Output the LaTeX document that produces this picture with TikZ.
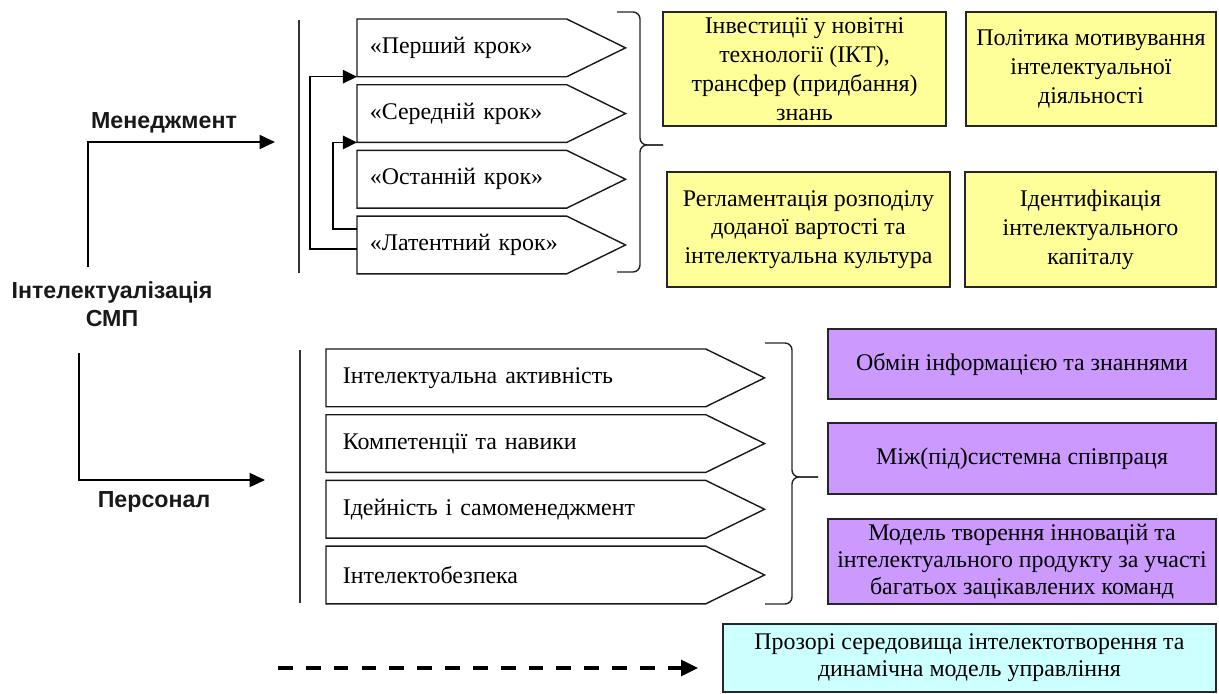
\documentclass[tikz,border=0pt]{standalone}
\usepackage{fontspec}
\setmainfont{Liberation Serif}
\setsansfont{Liberation Sans}
\usepackage{tikz}
\usetikzlibrary{arrows.meta,positioning}

\definecolor{yellowbox}{HTML}{FFFF99}
\definecolor{violetbox}{HTML}{CC99FF}
\definecolor{cyanbox}{HTML}{CCFFFF}

\begin{document}
\begin{tikzpicture}[x=0.025cm,y=-0.025cm,>={Triangle[length=10pt,width=9.5pt]},
                    node distance=0.2cm,font=\fontsize{17pt}{20.5pt}\selectfont,
                    line width=1.2pt]
  \tikzstyle{stepbase}=[rectangle,inner xsep=0pt,inner ysep=0pt,minimum height=1.4cm,
                        align=left,anchor=north west]
  \tikzstyle{krok}=[stepbase,text width=5.2cm,execute at begin node=\hspace*{0.3cm}]
  \tikzstyle{pkrok}=[stepbase,text width=9.45cm,execute at begin node=\hspace*{0.4cm}]
  \tikzstyle{outline}=[draw=black!90,line width=1pt,line join=miter]
  \tikzstyle{box}=[rectangle,draw=black!85,line width=1.2pt,align=center,inner sep=0pt]
  \tikzstyle{label}=[font=\fontsize{16.5pt}{20pt}\selectfont\sffamily\bfseries,
                     align=center,text=black!90]
  \tikzstyle{brace}=[draw=black!85,line width=1pt,rounded corners=5pt]

  \useasboundingbox (0,0) rectangle (1219,693);

  % left part
  \node[label] (intel) at (112,304) {Інтелектуалізація\\СМП};
  \node[label] (man)   at (164,123) {Менеджмент};
  \node[label] (pers)  at (154,502) {Персонал};
  \coordinate (m0) at (88,267);
  \coordinate (m1) at (275,142);
  \coordinate (p0) at (79,353);
  \coordinate (p1) at (265,480);
  \draw[->,>={Triangle[length=11pt,width=10pt]}] (m0) |- (m1);
  \draw[->,>={Triangle[length=11pt,width=10pt]}] (p0) |- (p1);

  % steps of management
  \draw[black!80] (299,20) -- (299,273);
  \node[krok] (k1) at (357,19)   {«Перший крок»};
  \node[krok] (k2) [below=of k1] {«Середній крок»};
  \node[krok] (k3) [below=of k2] {«Останній крок»};
  \node[krok] (k4) [below=of k3] {«Латентний крок»};

  % steps of personnel
  \draw[black!80] (300,350) -- (300,603);
  \node[pkrok] (q1) at (326,349)  {Інтелектуальна активність};
  \node[pkrok] (q2) [below=of q1] {Компетенції та навики};
  \node[pkrok] (q3) [below=of q2] {Ідейність і самоменеджмент};
  \node[pkrok] (q4) [below=of q3] {Інтелектобезпека};

  \foreach \n in {k1,k2,k3,k4,q1,q2,q3,q4}
    \draw[outline] (\n.north west) -- (\n.north east) -- ([xshift=1.47cm]\n.east)
                   -- (\n.south east) -- (\n.south west) -- cycle;

  % feedback loops
  \draw[->,line width=1.1pt] ([yshift=-0.1cm]k4.west) -- ++(-47,0) |- (k1.south west);
  \draw[->,line width=1.1pt] ([yshift=0.4cm]k4.west)  -- ++(-24,0) |- (k2.south west);

  % braces
  \draw[brace] (617,12)  -- (640,12)  -- (640,145) -- (663,145);
  \draw[brace] (617,272) -- (640,272) -- (640,145) -- (663,145);
  \draw[brace] (765,343) -- (792,343) -- (792,477) -- (818,477);
  \draw[brace] (765,604) -- (792,604) -- (792,477) -- (818,477);

  % results
  \node[box,fill=yellowbox,minimum width=7.075cm,minimum height=2.85cm] (y1) at (804.5,69)
       {Інвестиції у новітні\\технології (ІКТ),\\трансфер (придбання)\\знань};
  \node[box,fill=yellowbox,minimum width=6.25cm,minimum height=2.85cm] (y2) at (1091,69)
       {Політика мотивування\\інтелектуальної\\діяльності};
  \node[box,fill=yellowbox,minimum width=7.075cm,minimum height=2.875cm] (y3) at (808.5,229.5)
       {Регламентація розподілу\\доданої вартості та\\інтелектуальна культура};
  \node[box,fill=yellowbox,minimum width=6.275cm,minimum height=2.875cm] (y4) at (1090.5,229.5)
       {Ідентифікація\\інтелектуального\\капіталу};

  \node[box,fill=violetbox,minimum width=9.7cm,minimum height=1.75cm] (v1) at (1022,364)
       {Обмін інформацією та знаннями};
  \node[box,fill=violetbox,minimum width=9.7cm,minimum height=1.775cm] (v2) at (1022,458.5)
       {Між(під)системна співпраця};
  \node[box,fill=violetbox,minimum width=9.7cm,minimum height=2.125cm,
        font=\fontsize{17pt}{19pt}\selectfont] (v3) at (1022,561.5)
       {Модель творення інновацій та\\інтелектуального продукту за участі\\багатьох зацікавлених команд};

  \node[box,fill=cyanbox,minimum width=12.325cm,minimum height=1.7cm,
        font=\fontsize{17pt}{19pt}\selectfont] (cyan) at (969.5,658)
       {Прозорі середовища інтелектотворення та\\динамічна модель управління};

  \coordinate (d0) at (278,668);
  \draw[->,line width=2.6pt,dash pattern=on 10.5pt off 9.3pt,shorten >=0.6cm,
        >={Triangle[length=12pt,width=11pt]}] (d0) -- (d0 -| cyan.west);
\end{tikzpicture}
\end{document}
